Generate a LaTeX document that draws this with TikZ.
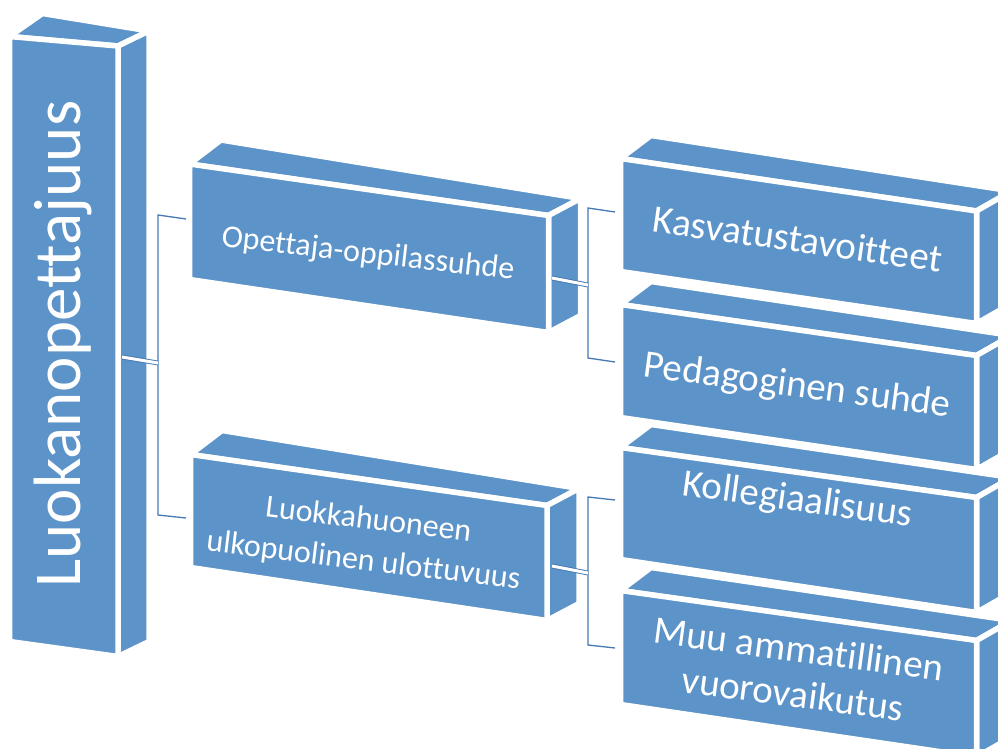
\documentclass[tikz,border=0pt]{standalone}
\usepackage{fontspec}
\setmainfont[Ligatures=NoCommon]{Carlito}
\usetikzlibrary{calc}
\definecolor{boxblue}{RGB}{92,147,200}
\definecolor{linkblue}{RGB}{70,120,180}
\tikzset{
  face/.style={fill=boxblue, draw=white, line width=5.5pt, line join=round},
  conn/.style={draw=linkblue, line width=1.3pt},
  dconn/.style={draw=linkblue, line width=0.9pt, double=white, double distance=3pt},
  lbl/.style={text=white, inner sep=0pt, align=center},
}
\newcommand{\cuboid}[7]{%
  \coordinate (#1tl) at #2;
  \coordinate (#1tr) at #3;
  \coordinate (#1br) at #4;
  \coordinate (#1bl) at #5;
  \coordinate (#1btl) at ($(#1tl)+#6$);
  \coordinate (#1btr) at ($(#1tr)+#7$);
  \coordinate (#1bbr) at ($(#1br)+#7$);
  \path[face] (#1tl) -- (#1btl) -- (#1btr) -- (#1tr) -- cycle;
  \path[face] (#1tr) -- (#1btr) -- (#1bbr) -- (#1br) -- cycle;
  \path[face] (#1tl) -- (#1tr) -- (#1br) -- (#1bl) -- cycle;
}
\begin{document}
\begin{tikzpicture}[x=1pt,y=-1pt]
\useasboundingbox (0,0) rectangle (998,749);
\clip (0,0) rectangle (998,749);
\fill[white] (0,0) rectangle (998,749);
% boxes
\cuboid{m}{(9.5,36.5)}{(118,46)}{(118,656.5)}{(9.5,641.5)}{(33,-23)}{(31,-15)}
\cuboid{a}{(189.5,164)}{(548.5,215.5)}{(548.5,332.5)}{(189.5,279.5)}{(31.5,-24)}{(32,-17)}
\cuboid{b}{(190.5,454.5)}{(547,505.5)}{(547,620.5)}{(190.5,567.5)}{(31.5,-24)}{(32,-17)}
\cuboid{k}{(620.5,158.5)}{(976.5,211)}{(976.5,323.5)}{(620.5,271.5)}{(30.5,-23)}{(35,-20)}
\cuboid{p}{(620.5,304.5)}{(976.5,355.5)}{(976.5,469.5)}{(620.5,417.5)}{(30.5,-23)}{(35,-20)}
\cuboid{c}{(620.5,447.5)}{(976.5,497.5)}{(976.5,612.5)}{(620.5,559.5)}{(30.5,-23)}{(35,-20)}
\cuboid{d}{(620.5,590.5)}{(976.5,640.5)}{(976.5,757)}{(620.5,704.5)}{(30.5,-23)}{(35,-20)}
% connector points
\coordinate (mOut) at (122,357);
\coordinate (j1m) at (158,363);
\coordinate (j1t) at (158,215);
\coordinate (j1b) at (158,515);
\coordinate (aIn) at (186,219);
\coordinate (bIn) at (186,518);
\coordinate (aOut) at (552,278);
\coordinate (j2m) at (588,285);
\coordinate (j2t) at (588,208);
\coordinate (j2b) at (588,358);
\coordinate (kIn) at (615,212);
\coordinate (pIn) at (615,362);
\coordinate (bOut) at (552,566);
\coordinate (j3m) at (588,573);
\coordinate (j3t) at (588,497);
\coordinate (j3b) at (588,645);
\coordinate (cIn) at (615,500);
\coordinate (dIn) at (615,648);
% connectors
\draw[conn] (aIn) -- (j1t) -- (j1b) -- (bIn);
\draw[dconn] (mOut) -- (j1m);
\draw[conn] (kIn) -- (j2t) -- (j2b) -- (pIn);
\draw[dconn] (aOut) -- (j2m);
\draw[conn] (cIn) -- (j3t) -- (j3b) -- (dIn);
\draw[dconn] (bOut) -- (j3m);
% labels
\node[lbl, rotate=90, anchor=base, font=\fontsize{67}{74}\selectfont] (tMain) at (80,344) {Luokanopettajuus};
\node[lbl, rotate=-6.5, anchor=base, font=\fontsize{32}{38}\selectfont] (tA) at (367,263) {Opettaja-oppilassuhde};
\node[lbl, rotate=-7, font=\fontsize{32}{41}\selectfont] (tB) at (366,541) {Luokkahuoneen\\ulkopuolinen ulottuvuus};
\node[lbl, rotate=-8, anchor=base, font=\fontsize{39}{46}\selectfont] (tK) at (796,252) {Kasvatustavoitteet};
\node[lbl, rotate=-7.5, anchor=base, font=\fontsize{39}{46}\selectfont] (tP) at (796,397) {Pedagoginen suhde};
\node[lbl, rotate=-7.8, anchor=base, font=\fontsize{39}{46}\selectfont] (tC) at (796,511) {Kollegiaalisuus};
\node[lbl, rotate=-7.5, font=\fontsize{39}{45}\selectfont] (tD) at (796,671) {Muu ammatillinen\\vuorovaikutus};
\end{tikzpicture}
\end{document}
